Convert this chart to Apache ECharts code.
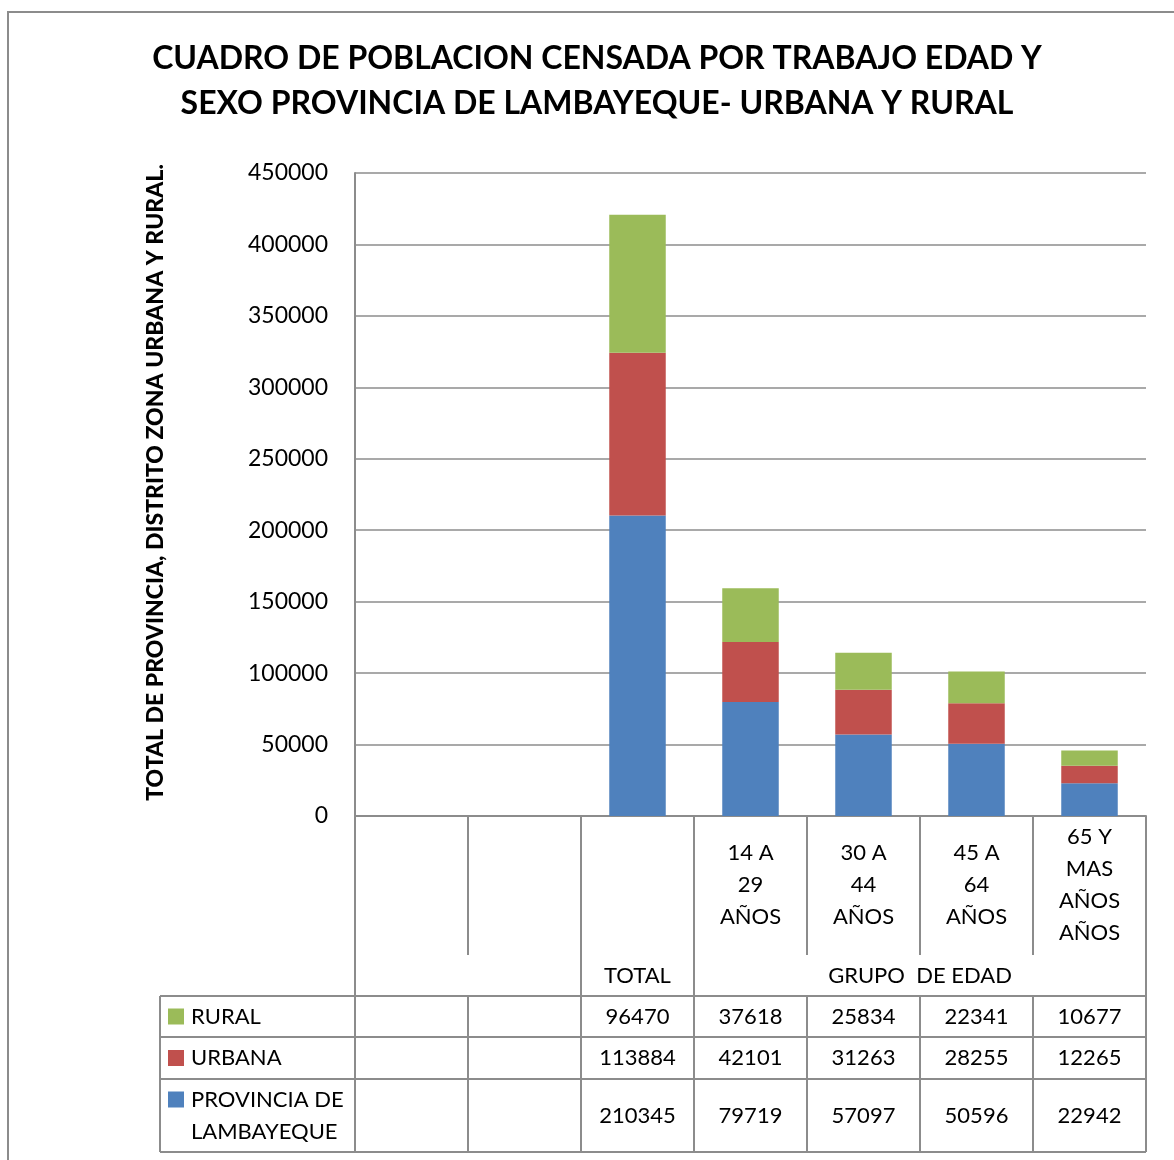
<!DOCTYPE html>
<html>
<head>
<meta charset="utf-8">
<script src="https://cdn.jsdelivr.net/npm/echarts@6/dist/echarts.min.js"></script>
<style>
html,body{margin:0;padding:0;background:#fff;}
#chart{width:1174px;height:1160px;}
</style>
</head>
<body>
<div id="chart"></div>
<script>
// ---- data ----
var titleText = 'CUADRO DE POBLACION CENSADA POR TRABAJO EDAD Y\nSEXO PROVINCIA DE LAMBAYEQUE- URBANA Y RURAL';
var yAxisTitle = 'TOTAL DE PROVINCIA, DISTRITO ZONA URBANA Y RURAL.';
var categories = ['', '', '', '14 A\n29\nAÑOS', '30 A\n44\nAÑOS', '45 A\n64\nAÑOS', '65 Y\nMAS\nAÑOS\nAÑOS'];
var groupLabels = [
  {label: '', from: 0, to: 0},
  {label: '', from: 1, to: 1},
  {label: 'TOTAL', from: 2, to: 2},
  {label: 'GRUPO  DE EDAD', from: 3, to: 6}
];
var seriesNames = ['PROVINCIA DE\nLAMBAYEQUE', 'URBANA', 'RURAL'];
var provincia = [null, null, 210345, 79719, 57097, 50596, 22942];
var urbana    = [null, null, 113884, 42101, 31263, 28255, 12265];
var rural     = [null, null, 96470, 37618, 25834, 22341, 10677];
var yTicks = {min: 0, max: 450000, interval: 50000};
var colors = ['#4F81BD', '#C0504D', '#9BBB59'];

var FONT = 'Lato';
var LINE = '#8c8c8c';

var chart = echarts.init(document.getElementById('chart'), null, {renderer: 'canvas'});

var seriesData = [provincia, urbana, rural];
var option = {
  animation: false,
  backgroundColor: '#fff',
  title: {
    text: titleText,
    left: 592, top: 31,
    textAlign: 'center',
    textStyle: {fontFamily: FONT, fontWeight: 'bold', fontSize: 32, lineHeight: 45, color: '#000'}
  },
  grid: {left: 355, right: 28, top: 173, bottom: 344},
  xAxis: {
    type: 'category',
    data: categories,
    axisLine: {lineStyle: {color: LINE, width: 2}},
    axisTick: {show: false},
    axisLabel: {
      interval: 0, margin: 69, verticalAlign: 'middle',
      fontFamily: FONT, fontSize: 22, lineHeight: 32, color: '#000'
    }
  },
  yAxis: {
    type: 'value',
    min: yTicks.min, max: yTicks.max, interval: yTicks.interval,
    name: yAxisTitle,
    nameLocation: 'middle',
    nameRotate: 90,
    nameGap: 188,
    nameTextStyle: {fontFamily: FONT, fontWeight: 900, fontSize: 23, color: '#000', padding: [0, 0, 0, 24]},
    axisLine: {show: true, lineStyle: {color: LINE, width: 2}},
    axisTick: {show: false},
    axisLabel: {margin: 27, fontFamily: FONT, fontSize: 23, color: '#000',
      formatter: function (v) { return String(v); }},
    splitLine: {lineStyle: {color: LINE, width: 1.5}}
  },
  series: seriesData.map(function (d, i) {
    return {
      name: seriesNames[i], type: 'bar', stack: 'total', data: d,
      barWidth: '50%', itemStyle: {color: colors[i]}
    };
  })
};
chart.setOption(option);

// ---- data table and decorations, placed from axis scales ----
var c0 = chart.convertToPixel({xAxisIndex: 0}, 0);
var c1 = chart.convertToPixel({xAxisIndex: 0}, 1);
var band = c1 - c0;
function bx(i) { return c0 - band / 2 + i * band; } // boundary i
var y0 = chart.convertToPixel({yAxisIndex: 0}, 0);
var n = categories.length;
var innerBottom = y0 + 139;
var headBottom = y0 + 180;
var rowBounds = [headBottom, headBottom + 41, headBottom + 83, headBottom + 156];
var legendLeft = 160;
var rightX = bx(n);

var g = [];
function line(x1, y1, x2, y2) {
  g.push({type: 'line', shape: {x1: x1, y1: y1, x2: x2, y2: y2}, style: {stroke: LINE, lineWidth: 2}, silent: true});
}
function text(str, x, y, opts) {
  opts = opts || {};
  g.push({type: 'text', x: x, y: y, silent: true, style: {
    text: str, fill: '#000', fontFamily: FONT,
    fontSize: opts.size || 22,
    verticalAlign: 'middle',
    align: opts.align || 'center', lineHeight: opts.lineHeight || 32
  }});
}
// outer frame
g.push({type: 'rect', shape: {x: 8, y: 12, width: 1400, height: 1400}, style: {fill: null, stroke: '#8c8c8c', lineWidth: 2}, silent: true, z: -1});

var groupEdges = {};
groupLabels.forEach(function (gl) { groupEdges[gl.from] = true; groupEdges[gl.to + 1] = true; });
for (var i = 0; i <= n; i++) {
  if (groupEdges[i] && i !== 1) {
    line(bx(i), y0, bx(i), rowBounds[3]);
  } else {
    line(bx(i), y0, bx(i), innerBottom);
    line(bx(i), headBottom, bx(i), rowBounds[3]);
  }
}
rowBounds.forEach(function (ry) { line(legendLeft, ry, rightX, ry); });
line(legendLeft, headBottom, legendLeft, rowBounds[3]);

groupLabels.forEach(function (gl) {
  if (!gl.label) return;
  text(gl.label, (bx(gl.from) + bx(gl.to + 1)) / 2, (innerBottom + headBottom) / 2);
});

var rowOrder = [2, 1, 0];
rowOrder.forEach(function (si, r) {
  var cy = (rowBounds[r] + rowBounds[r + 1]) / 2;
  var nameLines = seriesNames[si].split('\n');
  var firstY = cy - (nameLines.length - 1) * 16;
  g.push({type: 'rect', shape: {x: 168, y: firstY - 8, width: 16, height: 16}, style: {fill: colors[si]}, silent: true});
  text(seriesNames[si], 191, cy, {align: 'left'});
  seriesData[si].forEach(function (v, ci) {
    if (v == null) return;
    text(String(v), chart.convertToPixel({xAxisIndex: 0}, ci), cy);
  });
});

chart.setOption({graphic: {elements: g}});
</script>
</body>
</html>
